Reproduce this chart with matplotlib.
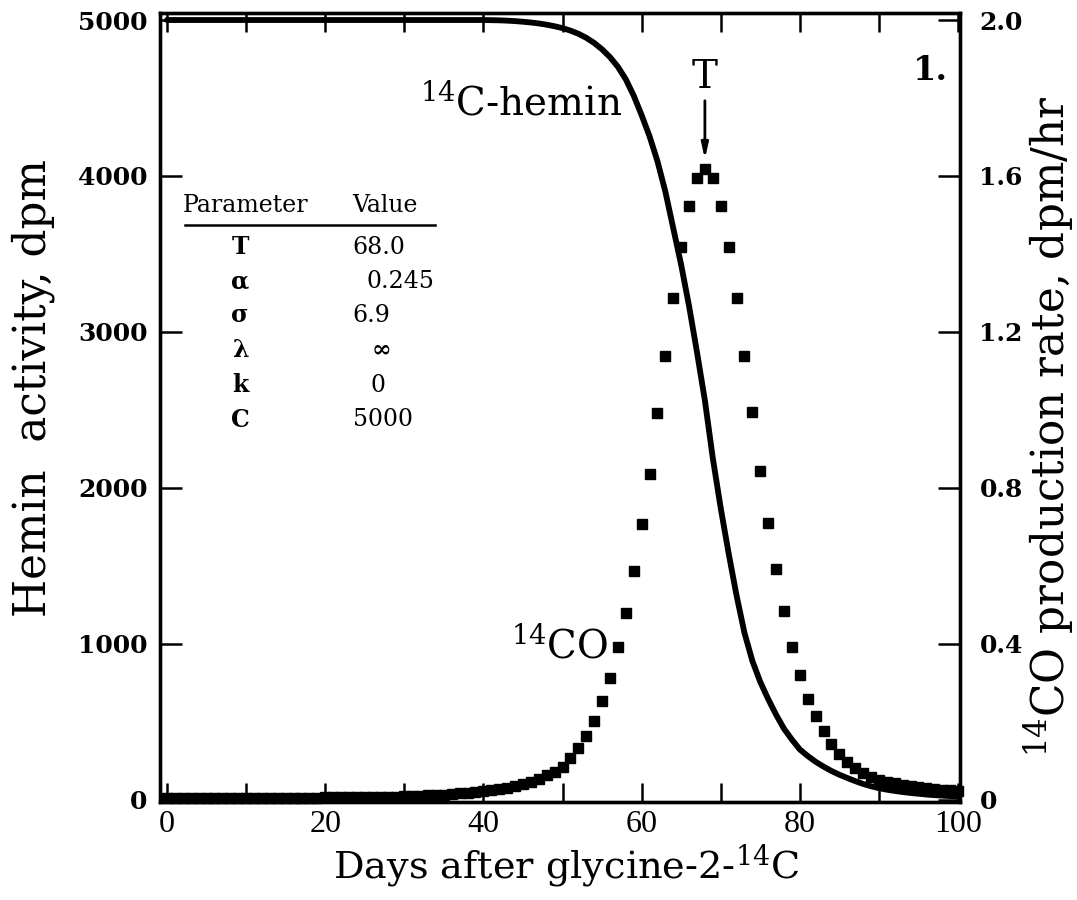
import numpy as np
import matplotlib
matplotlib.use('Agg')
import matplotlib.pyplot as plt

plt.rcParams['font.family'] = ['DejaVu Serif']
plt.rcParams['mathtext.fontset'] = 'dejavuserif'

# days after glycine-2-14C injection
days = list(range(0, 101))

# 14C-hemin activity (dpm)
hemin = ([5000] * 41 +
         [4999, 4998, 4996, 4993, 4989, 4984, 4978, 4970, 4960, 4948,
          4932, 4912, 4886, 4853, 4812, 4762, 4700, 4620, 4515, 4390,
          4255, 4095, 3900, 3665, 3430, 3165, 2870, 2560, 2190, 1870,
          1580, 1310, 1070, 890, 755, 645, 545, 455, 385, 322,
          280, 243, 212, 184, 160, 139, 119, 101, 86, 74,
          64, 56, 49, 43, 38, 33, 29, 26, 23, 20])

# 14CO production rate (dpm/hr)
co_rate = ([0.005] * 20 + [0.006] * 6 +
           [0.007, 0.007, 0.008, 0.008, 0.009, 0.010, 0.010, 0.011, 0.012, 0.013,
            0.014, 0.016, 0.018, 0.020, 0.023, 0.026, 0.028, 0.031, 0.036, 0.041,
            0.046, 0.054, 0.062, 0.072, 0.085, 0.108, 0.133, 0.164, 0.203, 0.254,
            0.313, 0.392, 0.479, 0.587, 0.708, 0.836, 0.992, 1.138, 1.287, 1.418,
            1.523, 1.595, 1.618, 1.595, 1.523, 1.418, 1.287, 1.138, 0.995, 0.844,
            0.710, 0.592, 0.485, 0.392, 0.321, 0.259, 0.215, 0.177, 0.144, 0.118,
            0.097, 0.082, 0.069, 0.059, 0.051, 0.046, 0.042, 0.038, 0.035, 0.032,
            0.030, 0.028, 0.026, 0.024, 0.022])

x_ticks = [0, 20, 40, 60, 80, 100]
x_minor = list(range(0, 101, 10))
left_ticks = [0, 1000, 2000, 3000, 4000, 5000]
right_ticks = [0, 0.4, 0.8, 1.2, 1.6, 2.0]
right_labels = ['0', '0.4', '0.8', '1.2', '1.6', '2.0']

param_names = ['T', 'α', 'σ', 'λ', 'k', 'C']
param_values = ['68.0', '0.245', '6.9', '∞', '0', '5000']
T_peak = 68.0

W, H = 1077, 900
fig = plt.figure(figsize=(W / 100, H / 100), dpi=100)
ax = fig.add_axes([160 / W, 1 - 802 / H, 800 / W, 789 / H])
ax2 = ax.twinx()

ax.plot(days, hemin, color='black', lw=4.2, solid_capstyle='round', zorder=3)
ax2.plot(days, co_rate, ls='none', marker='s', ms=7.0, color='black',
         clip_on=False, zorder=4)

ax.set_xlim(-0.885, 100.25)
ax.set_ylim(-15, 5045)
ax2.set_ylim(-15 / 2500, 5045 / 2500)

for s in ax.spines.values():
    s.set_linewidth(2.4)
for s in ax2.spines.values():
    s.set_linewidth(2.4)

ax.set_xticks(x_ticks, [str(v) for v in x_ticks], fontfamily='Liberation Serif', fontsize=23)
ax.set_xticks(x_minor, minor=True)
ax.tick_params(axis='x', which='both', direction='in', length=14, width=1.8,
               top=True, pad=6)
ax.set_yticks(left_ticks, [str(v) for v in left_ticks], fontsize=18, fontweight='bold')
ax.tick_params(axis='y', direction='in', length=16, width=1.8, pad=9)
ax2.set_yticks(right_ticks, right_labels, fontsize=18, fontweight='bold')
ax2.tick_params(axis='y', direction='in', length=16, width=1.8, pad=14)

fig.text(33 / W, 1 - 388 / H, 'Hemin  activity, dpm', rotation=90,
         ha='center', va='center', fontsize=31.5)
fig.text(1049 / W, 1 - 426 / H, '$^{14}$CO production rate, dpm/hr', rotation=90,
         ha='center', va='center', fontsize=31.5)
fig.text(566 / W, 1 - 866 / H, 'Days after glycine-2-$^{14}$C',
         ha='center', va='center', fontsize=27.5)

ax.text(57.5, 4391, '$^{14}$C-hemin', ha='right', va='baseline', fontsize=28)
ax.text(55.8, 910, '$^{14}$CO', ha='right', va='baseline', fontsize=28)
ax.text(T_peak, 4564, 'T', ha='center', va='baseline', fontsize=28)
ax.annotate('', xy=(T_peak, 4090), xytext=(T_peak, 4500),
            arrowprops=dict(arrowstyle='-|>,head_length=0.9,head_width=0.2',
                            lw=2, color='black'))
ax.text(96.5, 4615, '1.', ha='center', va='baseline', fontsize=24, fontweight='bold')

# parameter table
fig.text(183 / W, 1 - 205 / H, 'Parameter', ha='left', va='center', fontsize=17)
fig.text(352 / W, 1 - 205 / H, 'Value', ha='left', va='center', fontsize=17)
fig.add_artist(plt.Line2D([185 / W, 435 / W], [1 - 225 / H, 1 - 225 / H],
                          color='black', lw=1.8))
row_y = [247, 281, 315, 350, 385, 420]
value_x = [352, 367, 352, 372, 370, 353]
for name, val, y, vx in zip(param_names, param_values, row_y, value_x):
    fig.text(240 / W, 1 - y / H, name, ha='center', va='center',
             fontsize=17, fontweight='bold')
    fig.text(vx / W, 1 - y / H, val, ha='left', va='center', fontsize=17,
             fontweight='bold' if val == '∞' else 'normal')

fig.savefig('out.png', dpi=100)
